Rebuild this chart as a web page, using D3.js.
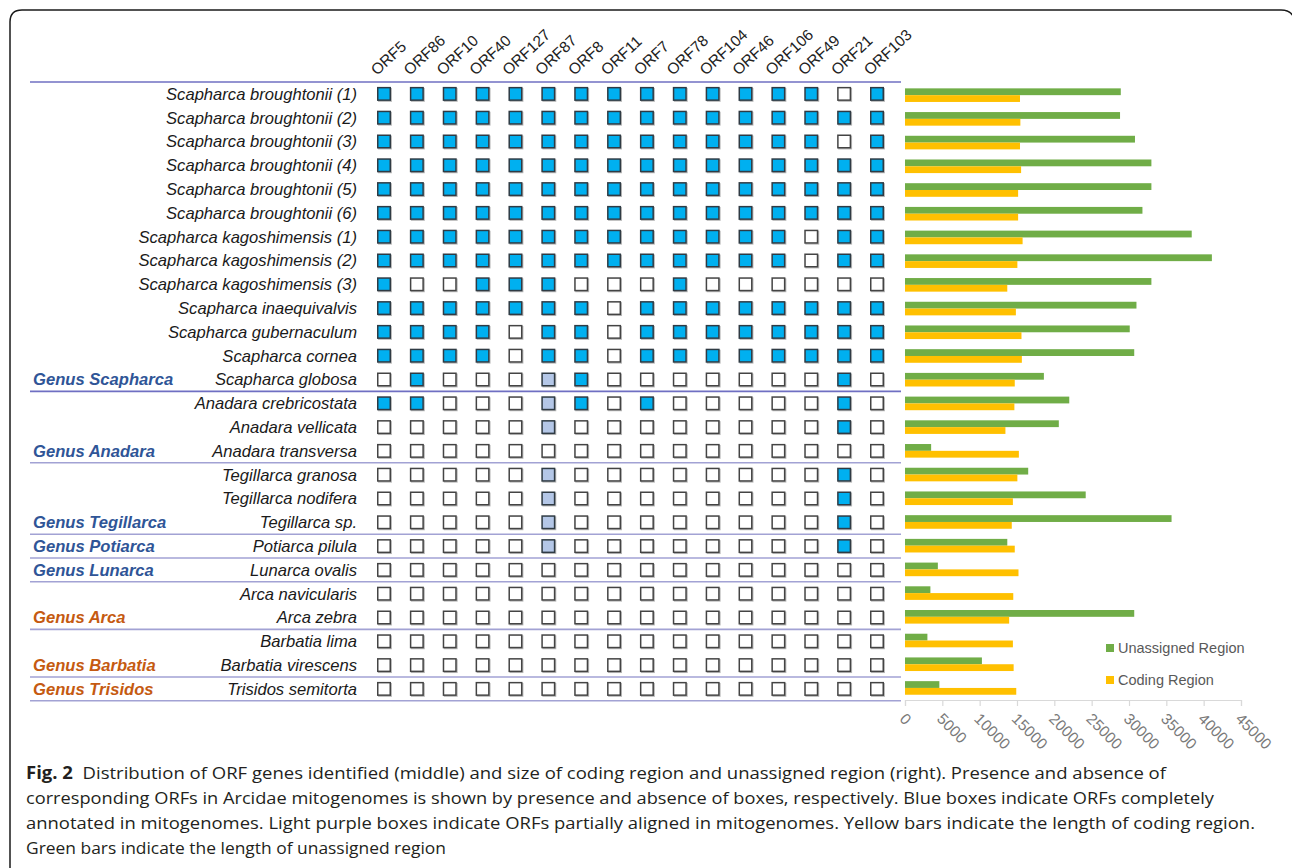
<!DOCTYPE html>
<html>
<head>
<meta charset="utf-8">
<script src="https://cdn.jsdelivr.net/npm/d3@7"></script>
<style>
  html, body { margin: 0; padding: 0; background: #ffffff; }
  svg { display: block; }
</style>
</head>
<body>
<script>
// ORF columns, in display order
const orfs = ["ORF5", "ORF86", "ORF10", "ORF40", "ORF127", "ORF87", "ORF8", "ORF11",
  "ORF7", "ORF78", "ORF104", "ORF46", "ORF106", "ORF49", "ORF21", "ORF103"];

// Mitogenomes (rows)
const species = [
  "Scapharca broughtonii (1)", "Scapharca broughtonii (2)", "Scapharca broughtonii (3)",
  "Scapharca broughtonii (4)", "Scapharca broughtonii (5)", "Scapharca broughtonii (6)",
  "Scapharca kagoshimensis (1)", "Scapharca kagoshimensis (2)", "Scapharca kagoshimensis (3)",
  "Scapharca inaequivalvis", "Scapharca gubernaculum", "Scapharca cornea", "Scapharca globosa",
  "Anadara crebricostata", "Anadara vellicata", "Anadara transversa",
  "Tegillarca granosa", "Tegillarca nodifera", "Tegillarca sp.",
  "Potiarca pilula", "Lunarca ovalis",
  "Arca navicularis", "Arca zebra",
  "Barbatia lima", "Barbatia virescens",
  "Trisidos semitorta"
];

// ORF status per mitogenome: 0 = absent, 1 = completely annotated, 2 = partially aligned
const orfStatus = [
  "1111111111111101", "1111111111111111", "1111111111111101",
  "1111111111111111", "1111111111111111", "1111111111111111",
  "1111111111111011", "1111111111111011", "1001110001000000",
  "1111111011111111", "1111011011111111", "1111011011111111", "0100021000000010",
  "1100021010000010", "0000020000000010", "0000000000000000",
  "0000020000000010", "0000020000000010", "0000020000000010",
  "0000020000000010", "0000000000000000",
  "0000000000000000", "0000000000000000",
  "0000000000000000", "0000000000000000",
  "0000000000000000"
];

// Genus groups: label and index of the last row in the group
const genusNames = ["Genus Scapharca", "Genus Anadara", "Genus Tegillarca", "Genus Potiarca",
  "Genus Lunarca", "Genus Arca", "Genus Barbatia", "Genus Trisidos"];
const genusLastRow = [12, 15, 18, 19, 20, 22, 24, 25];

// Region lengths (bp)
const unassignedLength = [28900, 28800, 30800, 33000, 33000, 31800, 38400, 41100, 33000,
  31000, 30100, 30700, 18600, 22000, 20600, 3500, 16500, 24200, 35700, 13700, 4400,
  3400, 30700, 3000, 10300, 4600];
const codingLength = [15400, 15450, 15400, 15550, 15150, 15150, 15750, 15050, 13700,
  14850, 15600, 15650, 14700, 14650, 13450, 15250, 15050, 14450, 14300, 14700, 15200,
  14500, 13950, 14450, 14550, 14900];

const axisTicks = [0, 5000, 10000, 15000, 20000, 25000, 30000, 35000, 40000, 45000];
const legendLabels = ["Unassigned Region", "Coding Region"];

const W = 1292, H = 868;
const svg = d3.select("body").append("svg").attr("width", W).attr("height", H);

const BLUE = "#00b0f0", PARTIAL = "#b4c7e7", GREEN = "#70ad47", YELLOW = "#ffc000";
const labelFont = "'Liberation Sans', Arial, Helvetica, sans-serif";

// Outer rounded frame
svg.append("path")
  .attr("d", `M10,${H + 5} L10,22 Q10,10 22,10 L1281,10 Q1291,10 1294,18`)
  .attr("fill", "none").attr("stroke", "#1a1a1a").attr("stroke-width", 1.5);

// Scales
const row = d3.scaleBand().domain(d3.range(species.length)).range([82, 82 + species.length * 23.8]);
const col = d3.scalePoint().domain(orfs).range([384, 877]);
const barRow = d3.scaleBand().domain(species).range([83.3, 699.8]);
const x = d3.scaleLinear().domain([0, 45000]).range([905, 1241]);
const rowC = i => row(i) + row.bandwidth() / 2;

// Horizontal group separators (top rule plus one under each genus)
const sepY = [row(0)].concat(genusLastRow.map(r => row(r) + row.bandwidth()));
svg.append("g").selectAll("line").data(sepY).join("line")
  .attr("x1", 30).attr("x2", 901)
  .attr("y1", d => d).attr("y2", d => d)
  .attr("stroke", (d, i) => i < 2 ? "#6f6fc2" : "#a2a2d4")
  .attr("stroke-width", 1.6);

// ORF column headers
svg.append("g").selectAll("text").data(orfs).join("text")
  .attr("transform", d => `translate(${col(d) - 7},76) rotate(-43)`)
  .attr("font-family", labelFont).attr("font-size", 15.5).attr("fill", "#222")
  .text(d => d);

// Species labels
svg.append("g").selectAll("text").data(species).join("text")
  .attr("x", 357).attr("y", (d, i) => rowC(i)).attr("dy", "0.35em")
  .attr("text-anchor", "end")
  .attr("font-family", labelFont).attr("font-style", "italic").attr("font-size", 16.6)
  .attr("fill", "#1a1a1a")
  .text(d => d);

// Genus labels
const orangeGenera = new Set(["Genus Arca", "Genus Barbatia", "Genus Trisidos"]);
svg.append("g").selectAll("text").data(genusNames).join("text")
  .attr("x", 33).attr("y", (d, i) => rowC(genusLastRow[i])).attr("dy", "0.35em")
  .attr("font-family", labelFont).attr("font-style", "italic").attr("font-weight", "bold")
  .attr("font-size", 16.6)
  .attr("fill", d => orangeGenera.has(d) ? "#c55a11" : "#2f5597")
  .text(d => d);

// Presence/absence boxes
const cells = [];
orfStatus.forEach((s, r) => s.split("").forEach((v, c) => cells.push({ r, orf: orfs[c], v: +v })));
const box = 12.5;
const cellG = svg.append("g");
cellG.selectAll("rect.shadow").data(cells).join("rect").attr("class", "shadow")
  .attr("x", d => col(d.orf) - box / 2 + 1).attr("y", d => rowC(d.r) - box / 2 + 1)
  .attr("width", box).attr("height", box)
  .attr("fill", "none").attr("stroke", "#b8b8b8").attr("stroke-width", 1.4);
cellG.selectAll("rect.cell").data(cells).join("rect").attr("class", "cell")
  .attr("x", d => col(d.orf) - box / 2).attr("y", d => rowC(d.r) - box / 2)
  .attr("width", box).attr("height", box)
  .attr("fill", d => d.v === 1 ? BLUE : d.v === 2 ? PARTIAL : "#ffffff")
  .attr("stroke", d => d.v === 0 ? "#444" : "#2f3b44").attr("stroke-width", 1.5);

// Region length bars
const bh = 6.8;
const barG = svg.append("g");
barG.selectAll("rect.un").data(species).join("rect").attr("class", "un")
  .attr("x", x(0)).attr("y", d => barRow(d) + barRow.bandwidth() / 2 - bh)
  .attr("width", (d, i) => x(unassignedLength[i]) - x(0)).attr("height", bh)
  .attr("fill", GREEN);
barG.selectAll("rect.co").data(species).join("rect").attr("class", "co")
  .attr("x", x(0)).attr("y", d => barRow(d) + barRow.bandwidth() / 2)
  .attr("width", (d, i) => x(codingLength[i]) - x(0)).attr("height", bh)
  .attr("fill", YELLOW);

// Value axis
const axisG = svg.append("g").attr("transform", "translate(0,700)")
  .call(d3.axisBottom(x).tickValues(axisTicks).tickSize(6).tickFormat(d3.format("d")));
axisG.select(".domain").attr("stroke", "#d9d9d9").attr("stroke-width", 1.2);
axisG.selectAll(".tick line").attr("stroke", "#d9d9d9").attr("stroke-width", 1.2);
axisG.selectAll(".tick text")
  .attr("font-family", labelFont).attr("font-size", 15.5).attr("fill", "#7a7a7a")
  .attr("text-anchor", "start")
  .attr("x", 0).attr("y", 0).attr("dy", "0.35em")
  .attr("transform", "translate(-3,16) rotate(45)");

// Legend
const legendColors = [GREEN, YELLOW];
const lg = svg.append("g").selectAll("g").data(legendLabels).join("g")
  .attr("transform", (d, i) => `translate(1106,${648 + i * 32})`);
lg.append("rect").attr("x", 0).attr("y", -4).attr("width", 8).attr("height", 8)
  .attr("fill", (d, i) => legendColors[i]);
lg.append("text").attr("x", 12).attr("y", 0).attr("dy", "0.35em")
  .attr("font-family", labelFont).attr("font-size", 14.5).attr("fill", "#595959")
  .text(d => d);

// Caption, each line fitted to its set width
const captionFont = "'Open Sans', 'Noto Sans', sans-serif";
const capLines = [
  { bold: "Fig. 2", text: "  Distribution of ORF genes identified (middle) and size of coding region and unassigned region (right). Presence and absence of", w: 1140 },
  { bold: "", text: "corresponding ORFs in Arcidae mitogenomes is shown by presence and absence of boxes, respectively. Blue boxes indicate ORFs completely", w: 1188 },
  { bold: "", text: "annotated in mitogenomes. Light purple boxes indicate ORFs partially aligned in mitogenomes. Yellow bars indicate the length of coding region.", w: 1229 },
  { bold: "", text: "Green bars indicate the length of unassigned region", w: 420 }
];
capLines.forEach((ln, i) => {
  const t = svg.append("text")
    .attr("x", 26).attr("y", 779 + i * 25)
    .attr("font-family", captionFont).attr("font-size", 17).attr("fill", "#231f20")
    .attr("textLength", ln.w).attr("lengthAdjust", "spacingAndGlyphs")
    .attr("xml:space", "preserve").style("white-space", "pre");
  if (ln.bold) t.append("tspan").attr("font-weight", "bold").text(ln.bold);
  t.append("tspan").text(ln.text);
});
</script>
</body>
</html>
